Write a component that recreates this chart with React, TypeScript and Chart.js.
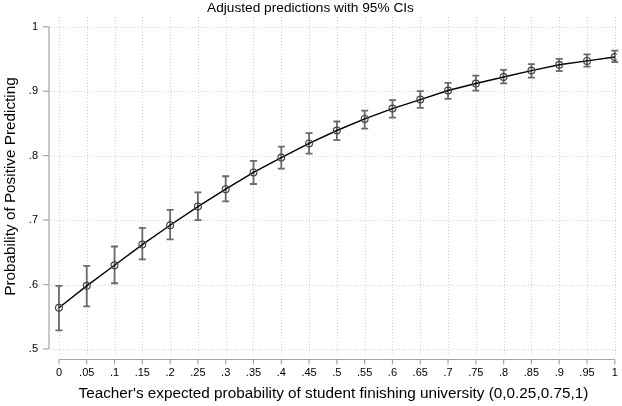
import React, { useEffect, useRef } from 'react';
import { Chart, registerables } from 'chart.js';

Chart.register(...registerables);

const xValues = [0, 0.05, 0.1, 0.15, 0.2, 0.25, 0.3, 0.35, 0.4, 0.45, 0.5, 0.55, 0.6, 0.65, 0.7, 0.75, 0.8, 0.85, 0.9, 0.95, 1];
const xTickLabels = ['0', '.05', '.1', '.15', '.2', '.25', '.3', '.35', '.4', '.45', '.5', '.55', '.6', '.65', '.7', '.75', '.8', '.85', '.9', '.95', '1'];
const margins = [0.564, 0.598, 0.630, 0.662, 0.692, 0.721, 0.748, 0.774, 0.797, 0.819, 0.839, 0.857, 0.873, 0.887, 0.901, 0.912, 0.922, 0.932, 0.941, 0.947, 0.953];
const ciLower = [0.529, 0.566, 0.602, 0.639, 0.670, 0.700, 0.729, 0.756, 0.780, 0.803, 0.824, 0.842, 0.859, 0.874, 0.888, 0.901, 0.912, 0.921, 0.931, 0.938, 0.945];
const ciUpper = [0.598, 0.629, 0.659, 0.688, 0.716, 0.743, 0.768, 0.792, 0.814, 0.835, 0.853, 0.870, 0.886, 0.900, 0.913, 0.924, 0.933, 0.942, 0.950, 0.957, 0.963];
const yTickValues = [0.5, 0.6, 0.7, 0.8, 0.9, 1];
const yTickLabels = ['.5', '.6', '.7', '.8', '.9', '1'];

const FONT = "'Liberation Sans', Arial, Helvetica, sans-serif";

const labelFor = (vals: number[], labels: string[], v: number) => {
  const i = vals.findIndex((x) => Math.abs(x - v) < 1e-9);
  return i >= 0 ? labels[i] : '';
};

const stataFrame = {
  id: 'stataFrame',
  beforeDatasetsDraw(chart: any) {
    const { ctx, chartArea, scales } = chart;
    const xs = scales.x;
    const ys = scales.y;
    ctx.save();
    // dotted grid
    ctx.strokeStyle = '#cfcfcf';
    ctx.lineWidth = 1;
    ctx.setLineDash([1, 2]);
    yTickValues.forEach((v) => {
      const y = Math.round(ys.getPixelForValue(v)) + 0.5;
      ctx.beginPath();
      ctx.moveTo(chartArea.left + 1, y);
      ctx.lineTo(chartArea.right, y);
      ctx.stroke();
    });
    xValues.forEach((v) => {
      const x = Math.round(xs.getPixelForValue(v)) + 0.5;
      ctx.beginPath();
      ctx.moveTo(x, chartArea.top);
      ctx.lineTo(x, chartArea.bottom);
      ctx.stroke();
    });
    ctx.setLineDash([]);
    // axes
    ctx.strokeStyle = '#a6a6a6';
    ctx.lineWidth = 1.2;
    const ax = chartArea.left - 1;
    const yTop = ys.getPixelForValue(yTickValues[yTickValues.length - 1]);
    const yBot = ys.getPixelForValue(yTickValues[0]);
    ctx.beginPath();
    ctx.moveTo(ax, yTop);
    ctx.lineTo(ax, yBot);
    ctx.stroke();
    yTickValues.forEach((v) => {
      const y = ys.getPixelForValue(v);
      ctx.beginPath();
      ctx.moveTo(ax, y);
      ctx.lineTo(ax - 6, y);
      ctx.stroke();
    });
    const ay = chartArea.bottom + 3.5;
    const xL = xs.getPixelForValue(xValues[0]);
    const xR = xs.getPixelForValue(xValues[xValues.length - 1]);
    ctx.beginPath();
    ctx.moveTo(xL, ay);
    ctx.lineTo(xR, ay);
    ctx.stroke();
    xValues.forEach((v) => {
      const x = xs.getPixelForValue(v);
      ctx.beginPath();
      ctx.moveTo(x, ay);
      ctx.lineTo(x, ay + 5);
      ctx.stroke();
    });
    // error bars
    ctx.strokeStyle = '#6a6a6a';
    ctx.lineWidth = 1.8;
    xValues.forEach((v, i) => {
      const x = xs.getPixelForValue(v);
      const yl = ys.getPixelForValue(ciLower[i]);
      const yu = ys.getPixelForValue(ciUpper[i]);
      ctx.beginPath();
      ctx.moveTo(x, yl);
      ctx.lineTo(x, yu);
      ctx.moveTo(x - 3.5, yl);
      ctx.lineTo(x + 3.5, yl);
      ctx.moveTo(x - 3.5, yu);
      ctx.lineTo(x + 3.5, yu);
      ctx.stroke();
    });
    ctx.restore();
  },
};

export default function App() {
  const ref = useRef<HTMLCanvasElement>(null);
  useEffect(() => {
    if (!ref.current) return;
    Chart.defaults.font.family = FONT;
    Chart.defaults.color = '#000';
    const chart = new Chart(ref.current, {
      type: 'line',
      data: {
        datasets: [
          {
            data: xValues.map((x, i) => ({ x, y: margins[i] })),
            borderColor: '#000',
            borderWidth: 1.4,
            tension: 0,
            pointStyle: 'circle',
            pointRadius: 3.4,
            pointBorderWidth: 1.2,
            pointBorderColor: '#444',
            pointBackgroundColor: 'rgba(0,0,0,0)',
          },
        ],
      },
      options: {
        responsive: false,
        animation: false,
        devicePixelRatio: 1,
        layout: { padding: { left: 0, right: 1, top: 0, bottom: 0 } },
        plugins: {
          legend: { display: false },
          tooltip: { enabled: false },
          title: {
            display: true,
            text: 'Adjusted predictions with 95% CIs',
            color: '#000',
            font: { family: FONT, size: 13.7, weight: 'normal' },
            padding: { top: 0, bottom: 0.6 },
          },
        },
        scales: {
          x: {
            type: 'linear',
            min: -0.0161,
            max: 1.0036,
            afterBuildTicks: (s: any) => {
              s.ticks = xValues.map((v) => ({ value: v }));
            },
            afterFit: (s: any) => {
              s.height = 50;
              s.paddingLeft = 0;
              s.paddingRight = 0;
            },
            grid: { display: false, drawTicks: false },
            border: { display: false },
            ticks: {
              autoSkip: false,
              maxRotation: 0,
              padding: 10,
              font: { family: FONT, size: 11 },
              color: '#000',
              callback: (v: any) => labelFor(xValues, xTickLabels, Number(v)),
            },
            title: {
              display: true,
              text: "Teacher's expected probability of student finishing university (0,0.25,0.75,1)",
              color: '#000',
              font: { family: FONT, size: 15.3 },
              padding: { top: 0, bottom: 3 },
            },
          },
          y: {
            type: 'linear',
            min: 0.48914,
            max: 1.01505,
            afterBuildTicks: (s: any) => {
              s.ticks = yTickValues.map((v) => ({ value: v }));
            },
            afterFit: (s: any) => {
              s.width = 50;
              s.paddingTop = 0;
              s.paddingBottom = 0;
            },
            grid: { display: false, drawTicks: false },
            border: { display: false },
            ticks: {
              padding: 12,
              font: { family: FONT, size: 11 },
              color: '#000',
              callback: (v: any) => labelFor(yTickValues, yTickLabels, Number(v)),
            },
            title: {
              display: true,
              text: 'Probability of Positive Predicting',
              color: '#000',
              font: { family: FONT, size: 15.3 },
              padding: { top: 2, bottom: 0 },
            },
          },
        },
      },
      plugins: [stataFrame],
    } as any);
    return () => chart.destroy();
  }, []);
  return (
    <div style={{ position: 'fixed', left: 0, top: 0, width: 622, height: 406, background: '#fff' }}>
      <canvas ref={ref} width={622} height={406} style={{ display: 'block', width: 622, height: 406 }} />
    </div>
  );
}
